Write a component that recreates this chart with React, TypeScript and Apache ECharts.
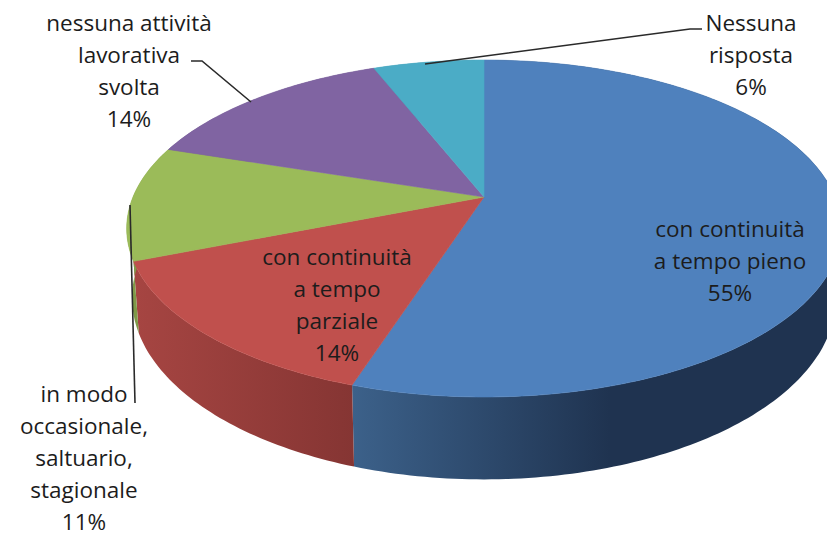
import React, { useEffect, useRef } from "react";
import * as echarts from "echarts";

const categories = [
  "con continuità\na tempo pieno",
  "con continuità\na tempo\nparziale",
  "in modo\noccasionale,\nsaltuario,\nstagionale",
  "nessuna attività\nlavorativa\nsvolta",
  "Nessuna\nrisposta",
];
const values = [55, 14, 11, 14, 6];

const topColors = ["#4f81bd", "#c0504d", "#9bbb59", "#8064a2", "#4bacc6"];
const wallStops: [number, number, string, string][] = [
  [352, 610, "#3c618a", "#1f3350"],
  [135, 355, "#a64542", "#853533"],
  [130, 140, "#7f9a48", "#7f9a48"],
  [130, 140, "#68537f", "#68537f"],
  [130, 140, "#3a8aa0", "#3a8aa0"],
];
const labelPos: [number, number][] = [
  [730, 260],
  [337, 304],
  [84, 457],
  [129, 70],
  [751, 54],
];
const leaders: [number, number][][] = [
  [],
  [],
  [[130, 205], [135, 403]],
  [[251, 102], [202, 61], [191, 61]],
  [[425, 64], [690, 29], [702, 29]],
];

const CX = 484, CY = 197, R = 351, S = 162.6, K = 0.187, D = 67, BX = 0.985;
const total = values.reduce((a, b) => a + b, 0);

const project = (deg: number): [number, number, number] => {
  const t = (deg * Math.PI) / 180;
  const u = Math.sin(t), v = Math.cos(t);
  const w = 1 + K * v;
  return [CX + (R * u) / w, CY - (S * v) / w, D / w];
};

const renderItem = (params: any, api: any) => {
  const i = params.dataIndex;
  const before = values.slice(0, i).reduce((a, b) => a + b, 0);
  const a0 = (before / total) * 360;
  const a1 = ((before + api.value(0)) / total) * 360;
  const rim: [number, number][] = [];
  const low: [number, number][] = [];
  for (let a = a0; ; a += 1) {
    const p = project(Math.min(a, a1));
    rim.push([p[0], p[1]]);
    low.push([CX + (p[0] - CX) * BX, p[1] + p[2]]);
    if (a >= a1) break;
  }
  const [gx0, gx1, c0, c1] = wallStops[i];
  const fill = new echarts.graphic.LinearGradient(
    gx0, 0, gx1, 0,
    [{ offset: 0, color: c0 }, { offset: 1, color: c1 }],
    true
  );
  const children: any[] = [
    {
      type: "polygon",
      z2: 1,
      shape: { points: [...rim, ...low.slice().reverse()] },
      style: { fill, stroke: "none" },
    },
    {
      type: "polygon",
      z2: 10,
      shape: { points: [[CX, CY], ...rim] },
      style: { fill: topColors[i], stroke: topColors[i], lineWidth: 0.6 },
    },
  ];
  if (leaders[i].length) {
    children.push({
      type: "polyline",
      z2: 20,
      shape: { points: leaders[i] },
      style: { fill: "none", stroke: "#2a2a2a", lineWidth: 1.6 },
    });
  }
  children.push({
    type: "text",
    z2: 30,
    x: labelPos[i][0],
    y: labelPos[i][1],
    style: {
      text: `${categories[i]}\n${api.value(0)}%`,
      fill: "#1c1c1c",
      font: '22.5px "Open Sans", sans-serif',
      align: "center",
      verticalAlign: "middle",
      lineHeight: 32,
    },
  });
  return { type: "group", children };
};

export default function App() {
  const ref = useRef<HTMLDivElement>(null);
  useEffect(() => {
    document.body.style.margin = "0";
    const chart = echarts.init(ref.current!, undefined, { renderer: "svg" });
    chart.setOption({
      animation: false,
      backgroundColor: "#ffffff",
      series: [
        {
          type: "custom",
          coordinateSystem: "none",
          silent: true,
          clip: false,
          data: values.map((v, i) => ({ name: categories[i], value: [v] })),
          renderItem,
        },
      ],
    });
    return () => chart.dispose();
  }, []);
  return <div ref={ref} style={{ position: "absolute", left: 0, top: 0, width: 827, height: 536 }} />;
}
